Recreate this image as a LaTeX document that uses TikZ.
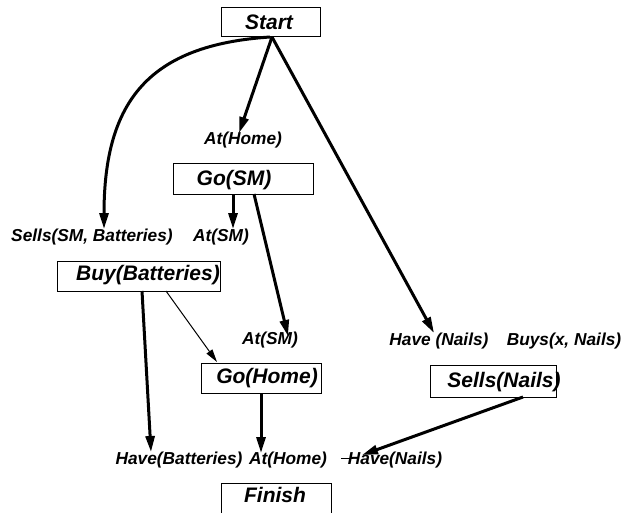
\documentclass[tikz,border=0pt]{standalone}
\usepackage{fontspec}
\setmainfont{Liberation Sans}
\usetikzlibrary{arrows.meta}
\begin{document}
\begin{tikzpicture}[x=1pt,y=-1pt,
  boxshape/.style={draw, line width=0.9pt, inner sep=0pt},
  boxtext/.style={font=\fontsize{21}{23}\selectfont\bfseries\itshape, inner sep=0pt},
  lbl/.style={font=\fontsize{17.3}{19}\selectfont\bfseries\itshape, inner sep=0pt},
  thickarrow/.style={line width=3pt, -{Triangle[length=16pt,width=9pt]}},
  thinarrow/.style={line width=1pt, -{Triangle[length=13pt,width=7pt]}}]
\useasboundingbox (0,0) rectangle (623,512);
% boxes
\node[boxshape, minimum width=99pt, minimum height=29pt] (start) at (270.5,21.5) {};
\node[boxtext] (starttxt) at (269,22) {Start};
\node[boxshape, minimum width=140pt, minimum height=31pt] (gosm) at (243,178.5) {};
\node[boxtext] (gosmtxt) at (234,180) {Go(SM)};
\node[boxshape, minimum width=163pt, minimum height=30pt] (buy) at (138.5,276) {};
\node[boxtext] (buytxt) at (148,275) {Buy(Batteries)};
\node[boxshape, minimum width=120pt, minimum height=30pt] (gohome) at (261,378) {};
\node[boxtext] (gohometxt) at (267,378) {Go(Home)};
\node[boxshape, minimum width=126pt, minimum height=32pt] (sells) at (493,381) {};
\node[boxtext] (sellstxt) at (504,382) {Sells(Nails)};
\node[boxshape, minimum width=110pt, minimum height=36pt] (finish) at (276,501) {};
\node[boxtext] (finishtxt) at (275,495) {Finish};
% labels
\node[lbl] (athome1) at (243,140) {At(Home)};
\node[lbl] (sellssm) at (92,237) {Sells(SM, Batteries)};
\node[lbl] (atsm1) at (221,237) {At(SM)};
\node[lbl] (atsm2) at (270,340) {At(SM)};
\node[lbl] (havenails1) at (439,341) {Have (Nails)};
\node[lbl] (buys) at (564,341) {Buys(x, Nails)};
\node[lbl] (havebat) at (179,460) {Have(Batteries)};
\node[lbl] (athome2) at (288,460) {At(Home)};
\node[lbl] (havenails2) at (395,460) {Have(Nails)};
% connection points
\coordinate (s0) at (270,37);
\coordinate (s1) at (272,37);
\coordinate (t1) at (104,229);
\coordinate (t2) at (239,133);
\coordinate (t3) at (434,333);
\coordinate (g1) at (233,194);
\coordinate (t4) at (233,229);
\coordinate (g2) at (254,194);
\coordinate (t5) at (288,336);
\coordinate (b1) at (142,291);
\coordinate (t6) at (151,452);
\coordinate (b2) at (166,291);
\coordinate (t7) at (217,362);
\coordinate (h1) at (261,393);
\coordinate (t8) at (261,453);
\coordinate (n1) at (523,397);
\coordinate (t9) at (362,455);
\coordinate (m1) at (341,458);
\coordinate (m2) at (353,458);
% arrows
\draw[thickarrow] (s0) .. controls (150,45) and (104,100) .. (t1);
\draw[thickarrow] (s1) -- (t2);
\draw[thickarrow] (s1) -- (t3);
\draw[thickarrow] (g1) -- (t4);
\draw[thickarrow] (g2) -- (t5);
\draw[thickarrow] (b1) -- (t6);
\draw[thinarrow] (b2) -- (t7);
\draw[thickarrow] (h1) -- (t8);
\draw[thickarrow] (n1) -- (t9);
\draw[line width=0.9pt] (m1) -- (m2);
\end{tikzpicture}
\end{document}
